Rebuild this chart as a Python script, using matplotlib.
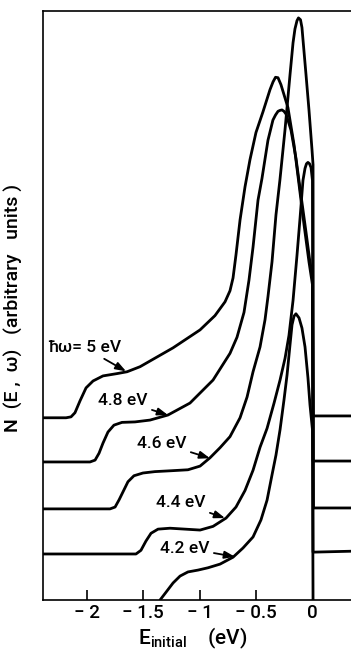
import matplotlib
matplotlib.use("Agg")
import matplotlib.pyplot as plt
import numpy as np

plt.rcParams['font.family'] = ['Roboto', 'DejaVu Sans']
plt.rcParams['font.weight'] = 'medium'
plt.rcParams['mathtext.fontset'] = 'custom'
plt.rcParams['mathtext.rm'] = 'Roboto:medium'

# photon energies and the vertical offset of each spectrum
photon_labels = ["ħω= 5 eV", "4.8 eV", "4.6 eV", "4.4 eV", "4.2 eV"]
offsets = [3.96, 3.0, 1.98, 1.0, 0.0]

# E_initial (eV) and N(E, w) (arbitrary units, above each baseline)
E_50 = [-2.387, -2.183, -2.139, -2.104, -2.059, -2.006, -1.944, -1.856, -1.732, -1.643,
        -1.528, -1.236, -0.997, -0.865, -0.776, -0.732, -0.705, -0.679, -0.643, -0.599,
        -0.555, -0.502, -0.440, -0.378, -0.351, -0.329, -0.307, -0.281, -0.219, -0.165,
        -0.121, -0.077, -0.033, -0.002, 0.003, 0.339]
N_50 = [0.0, 0.0, 0.02, 0.11, 0.37, 0.65, 0.80, 0.91, 0.96, 1.00,
        1.11, 1.52, 1.91, 2.22, 2.52, 2.76, 3.04, 3.54, 4.30, 5.02,
        5.61, 6.20, 6.65, 7.13, 7.30, 7.40, 7.39, 7.24, 6.74, 5.93,
        5.07, 4.20, 3.39, 2.89, 0.04, 0.04]

E_48 = [-2.387, -1.971, -1.926, -1.891, -1.856, -1.812, -1.759, -1.688, -1.573, -1.440,
        -1.281, -1.086, -0.882, -0.732, -0.670, -0.608, -0.564, -0.528, -0.484, -0.449,
        -0.396, -0.352, -0.329, -0.307, -0.289, -0.272, -0.254, -0.236, -0.192, -0.148,
        -0.104, -0.059, -0.024, -0.002, 0.003, 0.339]
N_48 = [0.0, 0.0, 0.04, 0.19, 0.41, 0.65, 0.80, 0.86, 0.87, 0.91,
        1.02, 1.28, 1.78, 2.36, 2.71, 3.25, 3.95, 4.67, 5.69, 6.16,
        6.99, 7.43, 7.54, 7.62, 7.64, 7.65, 7.62, 7.56, 7.21, 6.60,
        5.80, 4.99, 4.34, 4.06, 0.02, 0.02]

E_46 = [-2.387, -1.794, -1.749, -1.713, -1.679, -1.635, -1.582, -1.502, -1.396, -1.245,
        -1.104, -0.997, -0.909, -0.820, -0.732, -0.643, -0.581, -0.528, -0.466, -0.422,
        -0.396, -0.360, -0.325, -0.290, -0.245, -0.201, -0.174, -0.157, -0.139, -0.126,
        -0.108, -0.095, -0.086, -0.059, -0.033, -0.006, 0.003, 0.007, 0.339]
N_46 = [0.0, 0.0, 0.04, 0.20, 0.37, 0.59, 0.72, 0.78, 0.81, 0.83,
        0.85, 0.93, 1.11, 1.33, 1.57, 1.98, 2.43, 2.98, 3.52, 4.11,
        4.61, 5.37, 6.39, 7.15, 8.24, 9.43, 10.13, 10.43, 10.61, 10.67,
        10.63, 10.46, 10.20, 9.43, 8.67, 7.80, 7.48, 0.02, 0.02]

E_44 = [-2.387, -1.564, -1.520, -1.476, -1.431, -1.369, -1.263, -1.130, -0.997, -0.882,
        -0.767, -0.679, -0.599, -0.528, -0.466, -0.404, -0.342, -0.289, -0.245, -0.210,
        -0.174, -0.139, -0.112, -0.086, -0.068, -0.055, -0.042, -0.028, -0.015, -0.002,
        0.003, 0.339]
N_44 = [0.0, 0.0, 0.08, 0.28, 0.45, 0.54, 0.56, 0.54, 0.52, 0.60,
        0.78, 1.02, 1.38, 1.82, 2.32, 2.73, 3.28, 3.78, 4.25, 4.75,
        5.51, 6.49, 7.30, 8.12, 8.38, 8.48, 8.51, 8.48, 8.40, 8.12,
        0.04, 0.06]

E_42 = [-1.351, -1.298, -1.236, -1.174, -1.104, -1.015, -0.927, -0.820, -0.705, -0.617,
        -0.528, -0.458, -0.404, -0.360, -0.325, -0.289, -0.254, -0.227, -0.201, -0.183,
        -0.165, -0.148, -0.121, -0.095, -0.068, -0.042, -0.024, -0.002, 0.003]
N_42 = [0.0, 0.17, 0.37, 0.52, 0.61, 0.65, 0.70, 0.78, 0.93, 1.13,
        1.37, 1.74, 2.17, 2.72, 3.15, 3.70, 4.35, 4.89, 5.54, 5.98,
        6.17, 6.22, 6.13, 5.91, 5.50, 4.83, 4.24, 3.70, 0.0]

# label text position and arrow tip (E, N) for each spectrum
label_xy = [(-2.015, 5.48), (-1.678, 4.33), (-1.334, 3.41), (-1.165, 2.11), (-1.130, 1.13)]
arrow_tip = [(-1.652, 4.97), (-1.281, 4.02), (-0.909, 3.08), (-0.776, 1.78), (-0.688, 0.94)]

curves = [(E_50, N_50), (E_48, N_48), (E_46, N_46), (E_44, N_44), (E_42, N_42)]

fig = plt.figure(figsize=(3.51, 6.56), dpi=100)
ax = fig.add_axes([43 / 351, 56 / 656, 1 - 43 / 351, 589 / 656])

for (E, N), off in zip(curves, offsets):
    ax.plot(E, np.array(N) + off, color='black', lw=2.0,
            solid_joinstyle='round', solid_capstyle='round')

for text, xy, tip in zip(photon_labels, label_xy, arrow_tip):
    ax.annotate(text, xy=tip, xytext=xy, ha='center', va='center', fontsize=12.5,
                arrowprops=dict(arrowstyle='-|>,head_length=0.5,head_width=0.18',
                                color='black', lw=1.3, shrinkA=1, shrinkB=0))

ax.set_xlim(-2.387, 0.339)
ax.set_ylim(0, 12.8)
ax.set_xticks([-2, -1.5, -1, -0.5, 0])
ax.set_xticklabels(['− 2', '− 1.5', '− 1', '− 0.5', '0'], fontsize=13.5)
ax.set_yticks([])
ax.tick_params(axis='x', direction='in', length=7, width=1.2, pad=3)
ax.spines['right'].set_visible(False)
for s in ['left', 'top', 'bottom']:
    ax.spines[s].set_linewidth(1.2)

fig.text(193 / 351, 1 - 638 / 656, r'E$_{\mathregular{initial}}$    (eV)',
         ha='center', va='center', fontsize=15)
fig.text(13 / 351, 1 - 308 / 656, 'N  (E ,  ω)   (arbitrary   units )',
         rotation=90, ha='center', va='center', fontsize=14)

fig.savefig('out.png', dpi=100)
